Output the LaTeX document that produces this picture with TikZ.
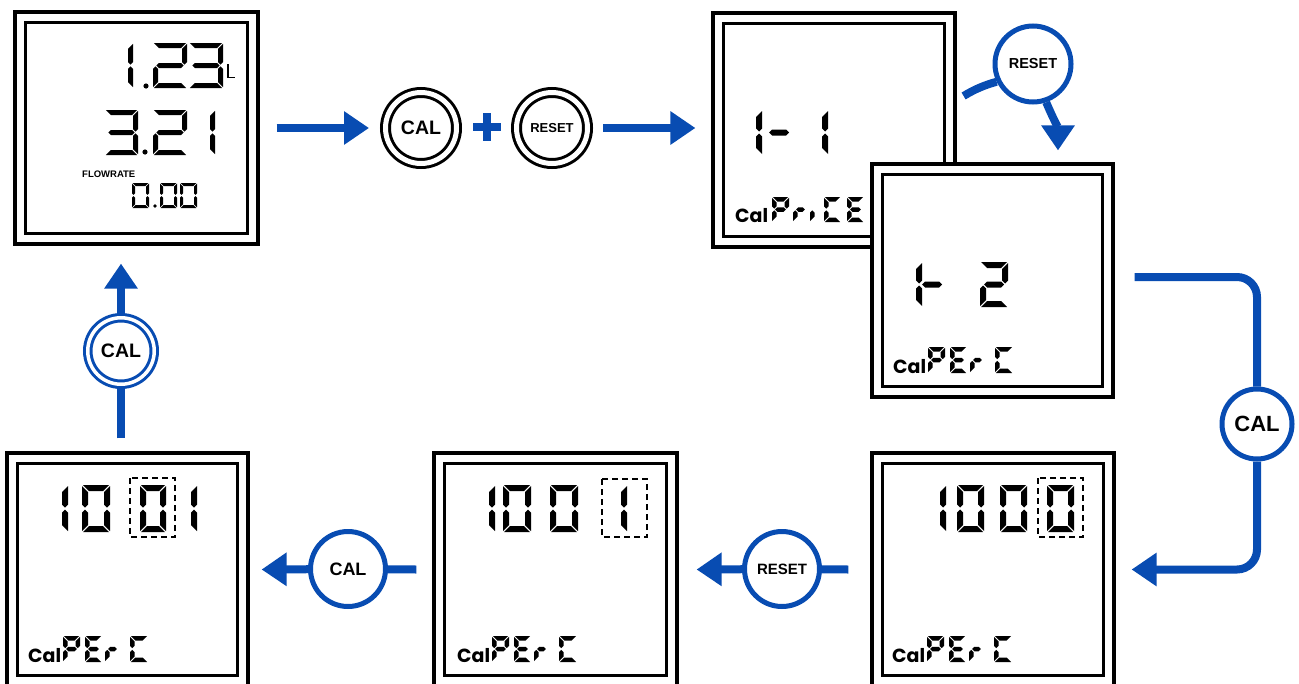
\documentclass[tikz,border=0pt]{standalone}
\usepackage{fontspec}
\setmainfont{Liberation Sans}
\newfontfamily\calfont{Poppins}
\usetikzlibrary{arrows.meta,calc,backgrounds}
\definecolor{myblue}{RGB}{8,76,178}
% seven-segment helpers (mitred corners)
\newcommand\sgxa{\fill (-\dT/2+\dS,-\dT/2) -- (\dW+\dT/2-\dS,-\dT/2) -- (\dW-\dT/2-\dS,\dT/2) -- (\dT/2+\dS,\dT/2) -- cycle;}
\newcommand\sgxd{\fill (-\dT/2+\dS,\dH+\dT/2) -- (\dW+\dT/2-\dS,\dH+\dT/2) -- (\dW-\dT/2-\dS,\dH-\dT/2) -- (\dT/2+\dS,\dH-\dT/2) -- cycle;}
\newcommand\sgxg{\fill (\dS,\dH/2) -- (\dS+\dT/2,\dH/2-\dT/2) -- (\dW-\dS-\dT/2,\dH/2-\dT/2) -- (\dW-\dS,\dH/2) -- (\dW-\dS-\dT/2,\dH/2+\dT/2) -- (\dS+\dT/2,\dH/2+\dT/2) -- cycle;}
\newcommand\sgxf{\fill (-\dT/2,-\dT/2+\dS) -- (\dT/2,\dT/2+\dS) -- (\dT/2,\dH/2-\dS-\dT/2) -- (0,\dH/2-\dS) -- (-\dT/2,\dH/2-\dS-\dT/2) -- cycle;}
\newcommand\sgxe{\fill (-\dT/2,\dH+\dT/2-\dS) -- (\dT/2,\dH-\dT/2-\dS) -- (\dT/2,\dH/2+\dS+\dT/2) -- (0,\dH/2+\dS) -- (-\dT/2,\dH/2+\dS+\dT/2) -- cycle;}
\newcommand\sgxb{\fill (\dW+\dT/2,-\dT/2+\dS) -- (\dW-\dT/2,\dT/2+\dS) -- (\dW-\dT/2,\dH/2-\dS-\dT/2) -- (\dW,\dH/2-\dS) -- (\dW+\dT/2,\dH/2-\dS-\dT/2) -- cycle;}
\newcommand\sgxc{\fill (\dW+\dT/2,\dH+\dT/2-\dS) -- (\dW-\dT/2,\dH-\dT/2-\dS) -- (\dW-\dT/2,\dH/2+\dS+\dT/2) -- (\dW,\dH/2+\dS) -- (\dW+\dT/2,\dH/2+\dS+\dT/2) -- cycle;}
% \dg{left}{top}{width}{height}{thickness}{segments}
\newcommand\dg[6]{\begin{scope}[shift={(#1+#5/2,#2+#5/2)}]%
\pgfmathsetmacro\dW{#3-#5}\pgfmathsetmacro\dH{#4-#5}\pgfmathsetmacro\dT{#5}\pgfmathsetmacro\dS{0.1*#5+0.4}%
\foreach \s in {#6}{\csname sgx\s\endcsname}\end{scope}}
\newcommand\innerbox[1]{\draw[line width=3.2pt] ($(#1.north west)+(12,12)$) rectangle ($(#1.south east)+(-12,-12)$);}
\newcommand\perc[3]{%
 \node[calf,anchor=base west] (#3) at (#1,#2) {Cal};
 \dg{#1+35}{#2-26}{17}{26}{4.5}{a,b,f,g,e}
 \dg{#1+57}{#2-26}{17}{26}{4.5}{a,f,g,e,d}
 \dg{#1+77}{#2-26}{15}{26}{4.5}{e,g}
 \dg{#1+102}{#2-26}{18}{26}{4.5}{a,f,e,d}}
\begin{document}
\begin{tikzpicture}[x=1pt,y=-1pt,
  disp/.style={draw, rectangle, line width=3.2pt, fill=white, inner sep=0pt},
  bbtn/.style={circle, draw=black, line width=3pt, double=white, double distance=5pt, fill=white, minimum size=71pt, inner sep=0pt},
  blb/.style={circle, draw=myblue, line width=5pt, fill=white, minimum size=#1, inner sep=0pt},
  lbb/.style={circle, draw=myblue, line width=3pt, double=white, double distance=3.5pt, fill=white, minimum size=66.5pt, inner sep=0pt},
  ln/.style={draw=myblue, line width=8pt},
  arr/.style={ln, -{Triangle[width=32pt,length=25pt]}},
  calf/.style={inner sep=0pt, font=\calfont\bfseries\fontsize{19}{19}\selectfont},
  dsh/.style={line width=2pt, dash pattern=on 6pt off 4pt}]
\useasboundingbox (0,0) rectangle (1299,683);
\clip (0,0) rectangle (1299,683);

% ---------- display 1 (main)
\node[disp, minimum width=243pt, minimum height=232pt] (d1) at (136.5,128) {};
\innerbox{d1}
\dg{103}{43}{30}{45}{5}{b,c}
\fill (146,86) circle (2.6);
\dg{153}{43}{34}{45}{5}{a,b,g,e,d}
\dg{189}{43}{34}{45}{5}{a,b,g,c,d}
\draw[line width=1.8pt] (228,64) -- (228,77.5) -- (235,77.5);
\dg{105}{110}{33}{45}{5}{a,b,g,c,d}
\fill (145,152) circle (2.6);
\dg{153}{110}{34}{45}{5}{a,b,g,e,d}
\dg{185}{110}{30}{45}{5}{b,c}
\node[anchor=west, inner sep=0pt, font=\bfseries\fontsize{9.5}{10}\selectfont] (flow) at (82,174) {FLOWRATE};
\dg{132}{183}{17}{25}{3}{a,b,c,d,e,f}
\fill (155,206) circle (1.8);
\dg{160}{183}{17}{25}{3}{a,b,c,d,e,f}
\dg{180}{183}{17}{25}{3}{a,b,c,d,e,f}

% ---------- display 2 (1-1 CalPriCE)
\node[disp, minimum width=242pt, minimum height=234pt] (d2) at (834,130) {};
\innerbox{d2}
\dg{732}{110}{30}{45}{6}{b,c}
\dg{765}{110}{28}{45}{6}{g}
\dg{798}{110}{30}{45}{6}{b,c}
\node[calf,anchor=base west] (cal2) at (735,222) {Cal};
\dg{772}{197}{17}{25}{4.5}{a,b,f,g,e}
\dg{793}{197}{15}{25}{4.5}{e,g}
\dg{810}{197}{6}{25}{4.5}{e}
\dg{824}{197}{17}{25}{4.5}{a,f,e,d}
\dg{847}{197}{17}{25}{4.5}{a,f,g,e,d}

% ---------- display 3 (1-2 CalPErC)
\node[disp, minimum width=241pt, minimum height=233pt] (d3) at (992.5,280.5) {};
\innerbox{d3}
\dg{892}{262}{30}{45}{6}{b,c}
\dg{918}{262}{28}{45}{6}{g}
\dg{980}{262}{28}{45}{6}{a,b,g,e,d}
\perc{893}{373}{cal3}

% ---------- display 4 (100[0])
\node[disp, minimum width=242pt, minimum height=233pt] (d4) at (993,569.5) {};
\innerbox{d4}
\dg{919}{485}{27}{47}{6}{b,c}
\dg{957}{485}{27}{47}{6}{a,b,c,d,e,f}
\dg{1000}{485}{27}{47}{6}{a,b,c,d,e,f}
\dg{1047}{485}{27}{47}{6}{a,b,c,d,e,f}
\draw[dsh] (1038,478) rectangle (1083,537);
\perc{892}{662}{cal4}

% ---------- display 5 (100[1])
\node[disp, minimum width=243pt, minimum height=233pt] (d5) at (555.5,569.5) {};
\innerbox{d5}
\dg{468}{485}{27}{47}{6}{b,c}
\dg{503}{485}{28}{47}{6}{a,b,c,d,e,f}
\dg{550}{485}{28}{47}{6}{a,b,c,d,e,f}
\dg{600}{485}{27}{47}{6}{b,c}
\draw[dsh] (602,479) rectangle (647,537);
\perc{457}{662}{cal5}

% ---------- display 6 (10[0]1)
\node[disp, minimum width=241pt, minimum height=233pt] (d6) at (127.5,569.5) {};
\innerbox{d6}
\dg{41}{485}{27}{47}{6}{b,c}
\dg{82}{485}{28}{47}{6}{a,b,c,d,e,f}
\dg{140}{485}{26}{47}{6}{a,b,c,d,e,f}
\dg{170}{485}{27}{47}{6}{b,c}
\draw[dsh] (130,478) rectangle (175,537);
\perc{28}{662}{cal6}

% ---------- buttons
\node[bbtn, font=\bfseries\fontsize{19.5}{20}\selectfont] (bcal) at (421,128) {CAL};
\node[bbtn, font=\bfseries\fontsize{13}{14}\selectfont] (bres) at (552,128) {RESET};
\draw[myblue, line width=8pt] (473,127) -- (501,127) (487,113) -- (487,141);
\node[blb=76pt, font=\bfseries\fontsize{14.5}{15}\selectfont] (tres) at (1033,64) {RESET};
\node[blb=70pt, font=\bfseries\fontsize{22}{23}\selectfont] (rcal) at (1257,424) {CAL};
\node[blb=75pt, font=\bfseries\fontsize{15}{16}\selectfont] (bres2) at (782,569) {RESET};
\node[blb=75pt, font=\bfseries\fontsize{18}{19}\selectfont] (bcal2) at (348,569) {CAL};
\node[lbb, font=\bfseries\fontsize{19.5}{20}\selectfont] (lcal) at (121,351) {CAL};

% ---------- connectors
\begin{scope}[on background layer]
\draw[arr] ($(d1.east)+(17,0)$) -- ($(bcal.west)+(-15,0)$);
\draw[arr] ($(bres.east)+(14,0)$) -- ($(bres.east -| d2.west)+(-16,0)$);
\coordinate (s3) at ($(d2.east)+(7,-34)$);
\coordinate (t3) at ($(d3.north)+(65.5,-12)$);
\draw[ln] (s3) .. controls (975,89) and (985,85) .. (tres.206);
\draw[arr] (tres.-71) .. controls (1052,116) and (1058,128) .. (t3);
\draw[ln, rounded corners=20pt] ($(d3.east)+(20,-3.5)$) -| (rcal);
\draw[arr, rounded corners=20pt] (rcal) |- ($(d4.east)+(16,0)$);
\draw[ln] ($(d4.west)+(-22,0)$) -- (bres2);
\draw[arr] (bres2) -- ($(d5.east)+(18,0)$);
\draw[ln] ($(d5.west)+(-16,0)$) -- (bcal2);
\draw[arr] (bcal2) -- ($(d6.east)+(12,0)$);
\draw[ln] ($(d6.north)+(-6.5,-13)$) -- (lcal);
\draw[arr] (lcal) -- ($(lcal |- d1.south)+(0,18)$);
\end{scope}
\end{tikzpicture}
\end{document}
